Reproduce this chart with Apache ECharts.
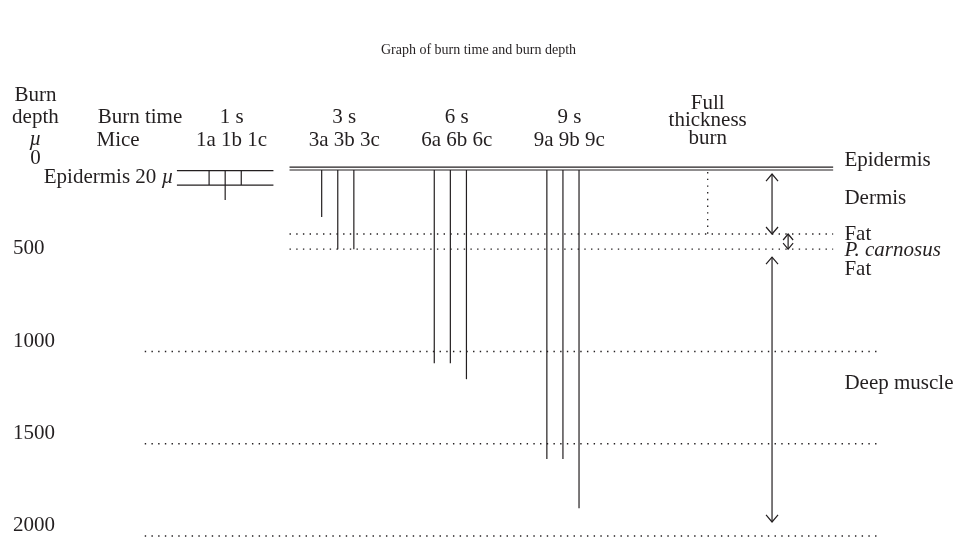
<!DOCTYPE html>
<html>
<head>
<meta charset="utf-8">
<title>Graph of burn time and burn depth</title>
<script src="https://cdn.jsdelivr.net/npm/echarts@6/dist/echarts.min.js"></script>
<style>
  html, body { margin: 0; padding: 0; background: #fff; }
  #chart { width: 957px; height: 543px; }
</style>
</head>
<body>
<div id="chart"></div>
<script>
// x = mouse column (1a = 0, one unit per mouse), y = burn depth in µ

// depth axis labels
const depthTicks = [500, 1000, 1500, 2000]

// burn groups
const groupNames = ['1 s', '3 s', '6 s', '9 s']
const groupMice = ['1a 1b 1c', '3a 3b 3c', '6a 6b 6c', '9a 9b 9c']
const groupStart = [0, 7, 14, 21]
const burnDepth3s = [271, 445, 445]
const burnDepth6s = [1063, 1063, 1150]
const burnDepth9s = [1583, 1583, 1849]
// 1 s burns are drawn inside the magnified epidermis box
const burnDepth1s = [98, 179, 98]
const insetDepth = [20, 98]

// skin layers
const epidermisDepth = [0, 16]
const fatDepth = 363
const carnosusDepth = 445
const gridDepths = [1000, 1500, 2000]
const fullThicknessDepth = [27, 363]

// layer arrows (from, to)
const dermisSpan = [38, 363]
const fatSpan = [363, 445]
const muscleSpan = [488, 1924]

// layer names on the right
const layerNames = ['Epidermis', 'Dermis', 'Fat', 'P. carnosus', 'Fat', 'Deep muscle']
const layerDepths = [-38, 168, 363, 455, 553, 1171]

// layout (axis units)
const insetX = [-2, 4]
const skinX = [5, 38.8]
const gridX = [-4, 41.6]
const fullThicknessX = 31
const arrowX = 35
const labelX = 39.5
const headX = -10.8
const rowTime = -271
const rowMice = -146

const ink = '#231f20'
const font = 'Liberation Serif'
const fontSize = 21
const dotted = { stroke: ink, lineWidth: 1.3, lineDash: [1.4, 5.3], fill: 'none' }
const solid = { stroke: ink, lineWidth: 1.2, fill: 'none' }

const chart = echarts.init(document.getElementById('chart'))

function segmentSeries(segs, style) {
  return {
    type: 'custom',
    clip: false,
    silent: true,
    data: segs,
    encode: { x: [0, 2], y: [1, 3] },
    renderItem(params, api) {
      const a = api.coord([api.value(0), api.value(1)])
      const b = api.coord([api.value(2), api.value(3)])
      return {
        type: 'line',
        shape: { x1: a[0], y1: a[1], x2: b[0], y2: b[1] },
        style: style
      }
    }
  }
}

function arrowSeries(spans, head) {
  return {
    type: 'custom',
    clip: false,
    silent: true,
    data: spans.map(s => [arrowX + (s === fatSpan ? 1 : 0), s[0], s[1]]),
    encode: { x: 0, y: [1, 2] },
    renderItem(params, api) {
      const a = api.coord([api.value(0), api.value(1)])
      const b = api.coord([api.value(0), api.value(2)])
      const w = head[params.dataIndex][0]
      const h = head[params.dataIndex][1]
      return {
        type: 'group',
        children: [
          { type: 'line', shape: { x1: a[0], y1: a[1], x2: b[0], y2: b[1] }, style: solid },
          { type: 'polyline', shape: { points: [[a[0] - w, a[1] + h], [a[0], a[1]], [a[0] + w, a[1] + h]] }, style: solid },
          { type: 'polyline', shape: { points: [[b[0] - w, b[1] - h], [b[0], b[1]], [b[0] + w, b[1] - h]] }, style: solid }
        ]
      }
    }
  }
}

// text annotations: [x, depth, text, align]
const texts = []
texts.push([headX, -390, 'Burn', 'center'])
texts.push([headX, -271, 'depth', 'center'])
texts.push([headX, -152, '{i|µ}', 'center'])
texts.push([headX, -49, '0', 'center'])
texts.push([-4.3, rowTime, 'Burn time', 'center'])
texts.push([-7, rowMice, 'Mice', 'left'])
groupNames.forEach((g, i) => {
  texts.push([groupStart[i] + 1.4, rowTime, g, 'center'])
  texts.push([groupStart[i] + 1.4, rowMice, groupMice[i], 'center'])
})
texts.push([fullThicknessX, -347, 'Full', 'center'])
texts.push([fullThicknessX, -255, 'thickness', 'center'])
texts.push([fullThicknessX, -157, 'burn', 'center'])
texts.push([insetX[0] - 0.2, (insetDepth[0] + insetDepth[1]) / 2, 'Epidermis 20 {i|µ}', 'right'])
layerNames.forEach((n, i) => {
  texts.push([labelX, layerDepths[i], n === 'P. carnosus' ? '{i|' + n + '}' : n, 'left'])
})

const burnSegs = []
;[burnDepth3s, burnDepth6s, burnDepth9s].forEach((depths, g) => {
  depths.forEach((d, i) => {
    const x = groupStart[g + 1] + i
    burnSegs.push([x, epidermisDepth[1], x, d])
  })
})
burnDepth1s.forEach((d, i) => burnSegs.push([groupStart[0] + i, insetDepth[0], groupStart[0] + i, d]))
insetDepth.forEach(d => burnSegs.push([insetX[0], d, insetX[1], d]))
epidermisDepth.forEach(d => burnSegs.push([skinX[0], d, skinX[1], d]))

const dotSegs = [
  [skinX[0], fatDepth, skinX[1], fatDepth],
  [skinX[0], carnosusDepth, skinX[1], carnosusDepth],
  [fullThicknessX, fullThicknessDepth[0], fullThicknessX, fullThicknessDepth[1]]
]
gridDepths.forEach(d => dotSegs.push([gridX[0], d, gridX[1], d]))

chart.setOption({
  animation: false,
  title: {
    text: 'Graph of burn time and burn depth',
    left: 'center',
    top: 38,
    textStyle: { fontFamily: font, fontSize: 14, fontWeight: 'normal', color: ink }
  },
  grid: { left: 0, right: 0, top: 1, bottom: 7, outerBoundsMode: 'none' },
  xAxis: {
    type: 'value',
    min: -13,
    max: 46.5,
    show: false
  },
  yAxis: {
    type: 'value',
    inverse: true,
    min: -900,
    max: 2000,
    axisLine: { show: false },
    axisTick: { show: false },
    splitLine: { show: false },
    axisLabel: {
      inside: true,
      margin: 13,
      customValues: depthTicks,
      formatter: v => String(v),
      verticalAlign: 'bottom',
      fontFamily: font,
      fontSize: fontSize,
      color: ink
    }
  },
  series: [
    segmentSeries(dotSegs, dotted),
    segmentSeries(burnSegs, solid),
    arrowSeries([dermisSpan, fatSpan, muscleSpan], [[6, 7], [5, 6], [6, 7]]),
    {
      type: 'custom',
      clip: false,
      silent: true,
      data: texts.map(t => [t[0], t[1]]),
      encode: { x: 0, y: 1 },
      renderItem(params, api) {
        const t = texts[params.dataIndex]
        const p = api.coord([t[0], t[1]])
        return {
          type: 'text',
          x: p[0],
          y: p[1],
          style: {
            text: t[2],
            fontFamily: font,
            fontSize: fontSize,
            fill: ink,
            align: t[3],
            verticalAlign: 'middle',
            rich: { i: { fontFamily: font, fontSize: fontSize, fontStyle: 'italic', fill: ink } }
          }
        }
      }
    }
  ]
})
</script>
</body>
</html>
